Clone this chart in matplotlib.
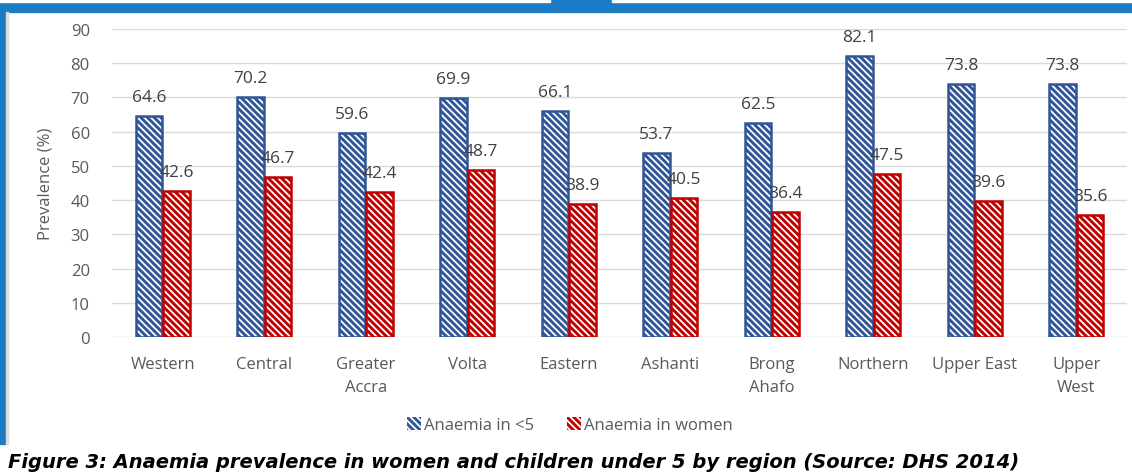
import matplotlib
matplotlib.use("Agg")
import matplotlib.pyplot as plt
import numpy as np
from matplotlib.patches import Rectangle, Patch

regions = ["Western", "Central", "Greater\nAccra", "Volta", "Eastern", "Ashanti",
           "Brong\nAhafo", "Northern", "Upper East", "Upper\nWest"]
under5 = [64.6, 70.2, 59.6, 69.9, 66.1, 53.7, 62.5, 82.1, 73.8, 73.8]
women = [42.6, 46.7, 42.4, 48.7, 38.9, 40.5, 36.4, 47.5, 39.6, 35.6]
series_names = ["Anaemia in <5", "Anaemia in women"]
yticks = list(range(0, 100, 10))
caption = "Figure 3: Anaemia prevalence in women and children under 5 by region (Source: DHS 2014)"

BLUE = "#2F5597"
RED = "#C00000"
GRAY = "#595959"
HATCH = "\\\\\\\\\\"

plt.rcParams["font.family"] = ["Open Sans", "DejaVu Sans"]
plt.rcParams["hatch.linewidth"] = 1.3

fig = plt.figure(figsize=(11.32, 4.77), dpi=100)

# page decoration: blue header band and left rule
fig.patches.append(Rectangle((0, 1 - 13 / 477), 1, 13 / 477, transform=fig.transFigure,
                             color="#1B7BC4", zorder=0))
fig.patches.append(Rectangle((0, 1 - 3 / 477), 550 / 1132, 3 / 477, transform=fig.transFigure,
                             color="white", zorder=1))
fig.patches.append(Rectangle((612 / 1132, 1 - 3 / 477), 520 / 1132, 3 / 477,
                             transform=fig.transFigure, color="white", zorder=1))
fig.patches.append(Rectangle((0, 1 - 445 / 477), 5 / 1132, 445 / 477, transform=fig.transFigure,
                             color="#1B7BC4", zorder=0))
fig.patches.append(Rectangle((6 / 1132, 1 - 445 / 477), 1.5 / 1132, 432 / 477,
                             transform=fig.transFigure, color="#DDDDDD", zorder=0))

ax = fig.add_axes([112 / 1132, 1 - 338 / 477, 1015 / 1132, 308 / 477])
x = np.arange(len(regions))
w = 0.26
gap = 0.01

for vals, col, off in [(under5, BLUE, -(w + gap) / 2), (women, RED, (w + gap) / 2)]:
    ax.bar(x + off, vals, w, color=col, edgecolor="white", hatch=HATCH, linewidth=0, zorder=2)
    ax.bar(x + off, vals, w, fill=False, edgecolor=col, linewidth=1.8, zorder=3)
    for xi, v in zip(x + off, vals):
        ax.annotate(f"{v}", (xi, v), xytext=(0, 8), textcoords="offset points",
                    ha="center", va="bottom", fontsize=12.5, color="#404040")

ax.set_ylim(0, 90)
ax.set_xlim(-0.5, len(regions) - 0.5)
ax.set_yticks(yticks)
ax.set_xticks(x)
ax.set_xticklabels(regions, fontsize=12, color=GRAY, linespacing=1.55)
ax.tick_params(axis="y", labelsize=12, colors=GRAY, length=0, pad=16)
ax.tick_params(axis="x", length=0, pad=14)
ax.grid(axis="y", color="#D9D9D9", linewidth=1, zorder=0)
ax.set_axisbelow(True)
for s in ax.spines.values():
    s.set_visible(False)
ax.set_ylabel("Prevalence (%)", fontsize=12, color=GRAY, labelpad=12)

handles = [Patch(facecolor=BLUE, edgecolor="white", hatch=HATCH, linewidth=0),
           Patch(facecolor=RED, edgecolor="white", hatch=HATCH, linewidth=0)]
fig.legend(handles, series_names, loc="center", bbox_to_anchor=(570 / 1132, 1 - 426 / 477),
           ncol=2, frameon=False, fontsize=12, labelcolor=GRAY, handlelength=0.8,
           handleheight=0.8, handletextpad=0.2, columnspacing=2.0)

fig.text(8 / 1132, 1 - 463 / 477, caption, fontsize=14, fontweight="bold", fontstyle="italic",
         family=["DejaVu Sans"], va="center", ha="left")

fig.savefig("out.png", dpi=100)
